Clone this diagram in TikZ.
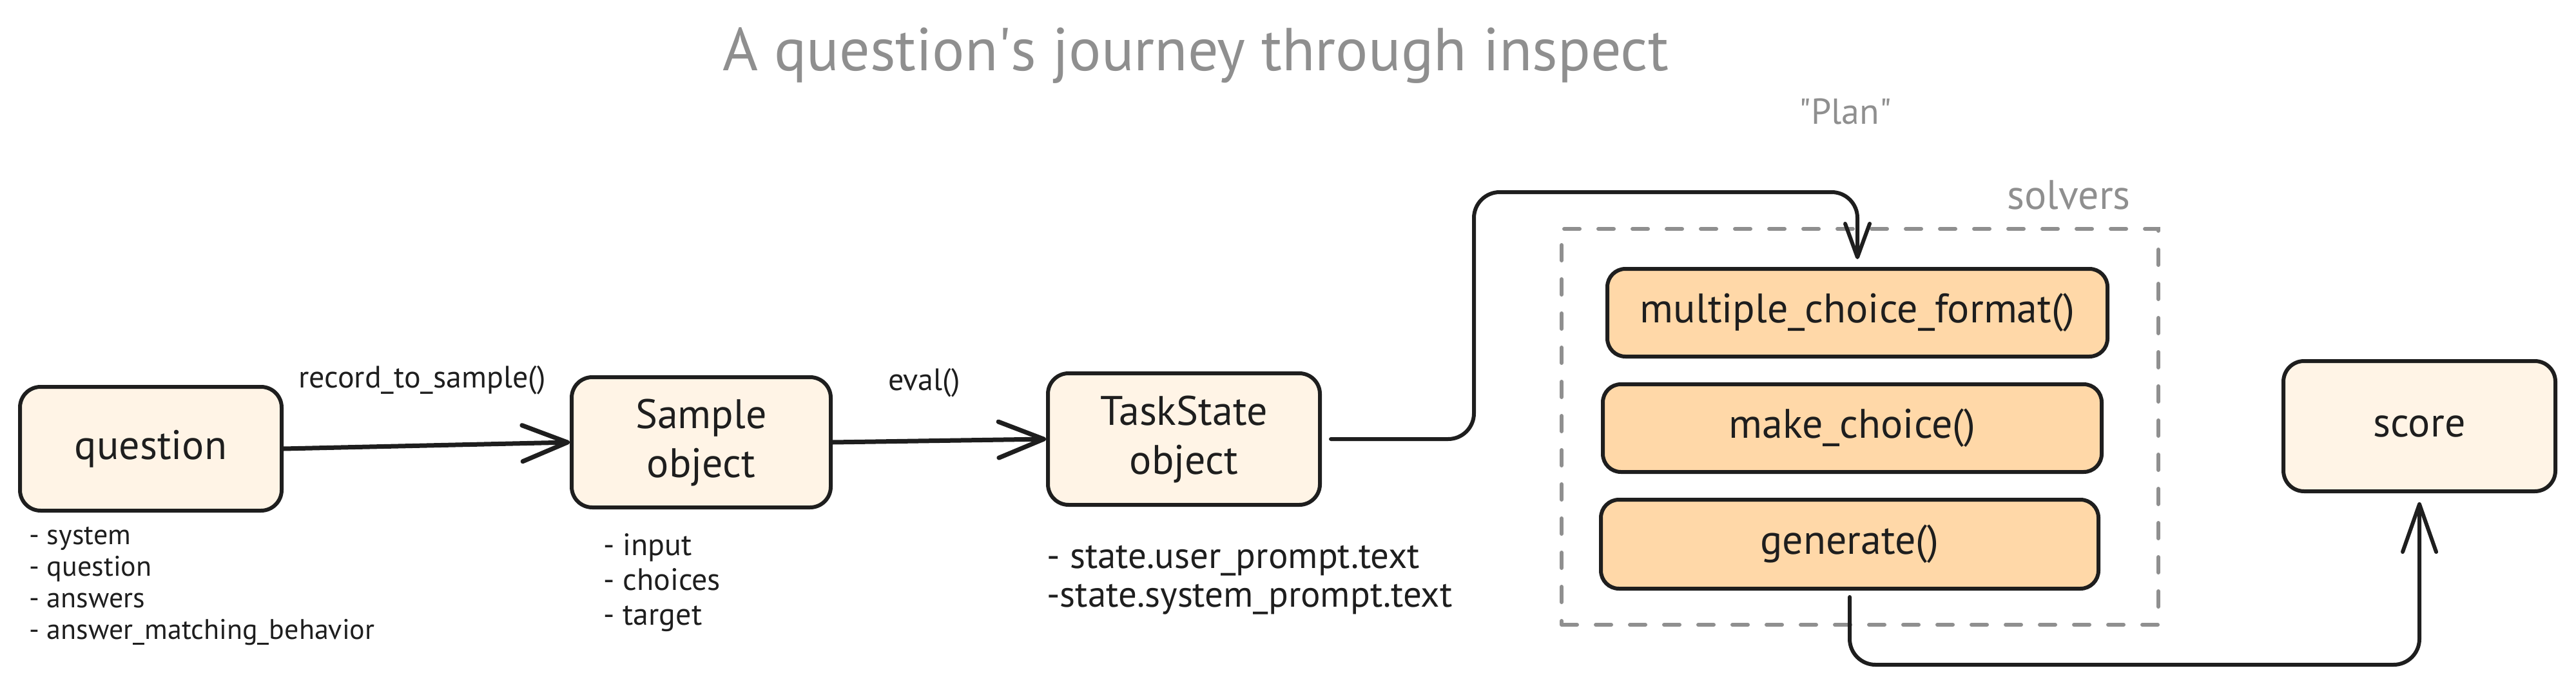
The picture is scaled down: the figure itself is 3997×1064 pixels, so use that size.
\documentclass[tikz,border=0pt]{standalone}
\usepackage{fontspec}
\setmainfont{PT Sans}
\usetikzlibrary{arrows.meta}
\definecolor{ink}{HTML}{1E1E1E}
\definecolor{lightfill}{HTML}{FFF4E6}
\definecolor{orangefill}{HTML}{FFD8A8}
\definecolor{graytext}{HTML}{8F8F8F}
\tikzset{
  box/.style={draw=ink, line width=3pt, rounded corners=16pt, fill=lightfill,
    align=center, text=ink, font=\fontsize{32}{38}\selectfont, inner sep=0pt},
  solverbox/.style={box, fill=orangefill, rounded corners=14pt},
  dashbox/.style={draw=graytext, line width=3pt, dash pattern=on 12pt off 14.5pt,
    line cap=round, inner sep=0pt},
  label/.style={text=ink, font=\fontsize{24}{29}\selectfont, inner sep=0pt},
  graylabel/.style={text=graytext, inner sep=0pt},
  listtext/.style={text=ink, align=left, inner sep=0pt, anchor=west},
  bigconn/.style={draw=ink, line width=3.5pt, line cap=round,
    -{Straight Barb[length=35pt, width=28pt, round]}},
  conn/.style={draw=ink, line width=3pt, line cap=round, rounded corners=20pt},
}
\begin{document}
\begin{tikzpicture}[x=0.5pt,y=-0.5pt]
\useasboundingbox (0,0) rectangle (3997,1064);

% title
\node[graylabel, anchor=base, font=\fontsize{47}{56}\selectfont] (title) at (1855,110)
  {A question\textquotesingle s journey through inspect};

% main nodes
\node[box, minimum width=203pt, minimum height=96pt] (question) at (234,696) {question};
\node[box, minimum width=201pt, minimum height=101pt] (sample) at (1088,686) {Sample\\object};
\node[box, minimum width=211pt, minimum height=102pt] (task) at (1837,681) {TaskState\\object};
\node[box, minimum width=211pt, minimum height=101pt] (score) at (3754,661) {score};

% solvers group
\node[dashbox, minimum width=463pt, minimum height=307pt] (solvers) at (2886,662) {};
\node[graylabel, font=\fontsize{32}{38}\selectfont] (solverslabel) at (3210,302) {solvers};
\node[graylabel, font=\fontsize{28}{34}\selectfont] (planlabel) at (2863,173)
  {\textquotedbl Plan\textquotedbl};

\node[solverbox, minimum width=388pt, minimum height=68pt] (mcf) at (2882,485) {multiple\_choice\_format()};
\node[solverbox, minimum width=387pt, minimum height=68pt] (make) at (2874,664) {make\_choice()};
\node[solverbox, minimum width=386pt, minimum height=69pt] (gen) at (2870,844) {generate()};

% lists
\node[listtext, font=\fontsize{22}{24.5}\selectfont] (qlist) at (45,909)
  {- system\\- question\\- answers\\- answer\_matching\_behavior};
\node[listtext, font=\fontsize{24}{27}\selectfont] (slist) at (936,904)
  {- input\\- choices\\- target};
\node[listtext, font=\fontsize{28.5}{30}\selectfont] (tlist) at (1624,900)
  {- state.user\_prompt.text\\-state.system\_prompt.text};

% edge labels
\node[label] (l1) at (655,590) {record\_to\_sample()};
\node[label] (l2) at (1434,594) {eval()};

% connectors
\draw[bigconn] (question.east) -- (sample.west);
\draw[bigconn] (sample.east) -- (task.west);

\coordinate (bend1) at (2287,298);
\draw[conn, -{Straight Barb[length=26pt, width=19pt, round]}]
  ([xshift=7pt]task.east) -| (bend1) -| ([yshift=6pt]mcf.north);

\coordinate (bend2) at (3300,1031);
\draw[conn, -{Straight Barb[length=37pt, width=26pt, round]}]
  ([yshift=-5pt]gen.south) |- (bend2) -| ([yshift=-7pt]score.south);
\end{tikzpicture}
\end{document}
